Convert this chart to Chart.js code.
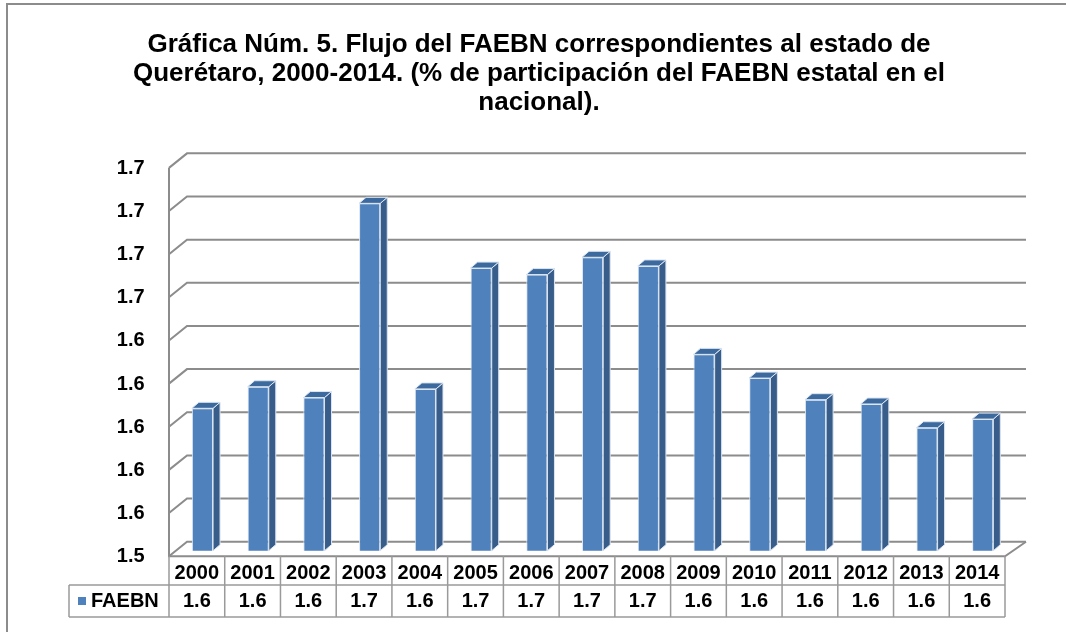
<!DOCTYPE html>
<html>
<head>
<meta charset="utf-8">
<title>Flujo del FAEBN - Querétaro</title>
<script src="https://cdn.jsdelivr.net/npm/chart.js@4.4.0/dist/chart.umd.min.js"></script>
<style>
  html, body { margin: 0; padding: 0; background: #fff; overflow: hidden; }
  #frame { position: absolute; left: 6px; top: 3px; width: 1120px; height: 700px; border: 2px solid #8c8c8c; }
  #myChart { position: absolute; left: 0; top: 0; }
</style>
</head>
<body>
<div id="frame"></div>
<canvas id="myChart" width="1066" height="632"></canvas>
<script>
const years = ['2000', '2001', '2002', '2003', '2004', '2005', '2006', '2007',
               '2008', '2009', '2010', '2011', '2012', '2013', '2014'];
const faebn = [1.606, 1.616, 1.611, 1.701, 1.615, 1.671, 1.668, 1.676,
               1.672, 1.631, 1.620, 1.610, 1.608, 1.597, 1.601];
const yTicks = [1.54, 1.56, 1.58, 1.60, 1.62, 1.64, 1.66, 1.68, 1.70, 1.72];
const seriesName = 'FAEBN';

const FONT = '"Liberation Sans", Arial, sans-serif';
const frontColor = '#4F81BD';
const sideColor = '#385D8A';
const topColor = '#3D6A9E';
const edgeColor = '#dce6f2';
const gridGray = '#8c8c8c';
const tableGray = '#9a9a9a';

// fake depth: the floor front sits left/below the bar plane, back wall up/right
const floorShift = 5.6;
const backUp = 9, frontDown = 5.5;
const backLeft = 12.4, backRight = 15.4;
const barDx = 7, barDy = 6;

// back wall gridlines + left wall + floor
const walls = {
    id: 'walls',
    beforeDatasetsDraw(chart) {
        const {ctx, chartArea: ca, scales: {y}} = chart;
        const fl = ca.left - floorShift, fr = ca.right - floorShift;
        ctx.save();
        ctx.strokeStyle = gridGray;
        ctx.lineWidth = 2;
        yTicks.forEach(v => {
            const py = y.getPixelForValue(v);
            ctx.beginPath();
            ctx.moveTo(fl, py + frontDown);
            ctx.lineTo(ca.left + backLeft, py - backUp);
            ctx.lineTo(ca.right + backRight, py - backUp);
            ctx.stroke();
        });
        const top = y.getPixelForValue(yTicks[yTicks.length - 1]) + frontDown;
        const bot = y.getPixelForValue(yTicks[0]) + frontDown;
        ctx.beginPath();
        ctx.moveTo(fl, top);
        ctx.lineTo(fl, bot);
        ctx.lineTo(fr, bot);
        ctx.lineTo(ca.right + backRight, bot - frontDown - backUp);
        ctx.stroke();
        ctx.restore();
    }
};

// side and top faces of each bar
const bars3d = {
    id: 'bars3d',
    afterDatasetsDraw(chart) {
        const {ctx, chartArea: ca} = chart;
        const meta = chart.getDatasetMeta(0);
        ctx.save();
        ctx.strokeStyle = edgeColor;
        ctx.lineWidth = 1;
        meta.data.forEach(bar => {
            const l = bar.x - bar.width / 2, r = bar.x + bar.width / 2;
            const t = bar.y, b = Math.min(bar.base, ca.bottom);
            ctx.beginPath();
            ctx.moveTo(r, t);
            ctx.lineTo(r + barDx, t - barDy);
            ctx.lineTo(r + barDx, b - barDy);
            ctx.lineTo(r, b);
            ctx.closePath();
            ctx.fillStyle = sideColor;
            ctx.fill();
            ctx.stroke();
            ctx.beginPath();
            ctx.moveTo(l, t);
            ctx.lineTo(l + barDx, t - barDy);
            ctx.lineTo(r + barDx, t - barDy);
            ctx.lineTo(r, t);
            ctx.closePath();
            ctx.fillStyle = topColor;
            ctx.fill();
            ctx.stroke();
        });
        ctx.restore();
    }
};

// data table under the axis (years come from the x ticks)
const dataTable = {
    id: 'dataTable',
    afterDraw(chart) {
        const {ctx, chartArea: ca, scales: {y}} = chart;
        const n = years.length;
        const cw = ca.width / n;
        const x0 = ca.left - floorShift;
        const x1 = x0 + n * cw;
        const rowTop = y.getPixelForValue(yTicks[0]) + frontDown;
        const rowMid = 585, rowBot = 617;
        const legLeft = 69;
        ctx.save();
        ctx.strokeStyle = tableGray;
        ctx.lineWidth = 1.5;
        ctx.beginPath();
        ctx.moveTo(legLeft, rowMid); ctx.lineTo(x1, rowMid);
        ctx.moveTo(legLeft, rowBot); ctx.lineTo(x1, rowBot);
        ctx.moveTo(legLeft, rowMid); ctx.lineTo(legLeft, rowBot);
        for (let i = 0; i <= n; i++) {
            ctx.moveTo(x0 + i * cw, rowTop);
            ctx.lineTo(x0 + i * cw, rowBot);
        }
        ctx.stroke();

        ctx.fillStyle = frontColor;
        ctx.fillRect(78, 597, 8, 8);

        ctx.fillStyle = '#000';
        ctx.font = 'bold 20px ' + FONT;
        ctx.textBaseline = 'middle';
        ctx.textAlign = 'left';
        ctx.fillText(seriesName, 91, (rowMid + rowBot) / 2);
        ctx.textAlign = 'center';
        faebn.forEach((v, i) => {
            ctx.fillText(v.toFixed(1), x0 + (i + 0.5) * cw, (rowMid + rowBot) / 2);
        });
        ctx.restore();
    }
};

new Chart(document.getElementById('myChart'), {
    type: 'bar',
    data: {
        labels: years,
        datasets: [{
            label: seriesName,
            data: faebn,
            backgroundColor: frontColor,
            borderColor: edgeColor,
            borderWidth: 1,
            categoryPercentage: 1,
            barPercentage: 0.38
        }]
    },
    options: {
        responsive: false,
        animation: false,
        layout: {
            padding: {left: 67.4, right: 55.4, top: 0, bottom: 35.3}
        },
        plugins: {
            legend: {display: false},
            tooltip: {enabled: false},
            title: {
                display: true,
                text: ['Gráfica Núm. 5. Flujo del FAEBN correspondientes al estado de',
                       'Querétaro, 2000-2014. (% de participación del FAEBN estatal en el',
                       'nacional).'],
                color: '#000',
                font: {family: FONT, size: 26, weight: 'bold', lineHeight: 1.12},
                padding: {top: 30, bottom: 45}
            }
        },
        scales: {
            x: {
                grid: {display: false, drawTicks: false},
                border: {display: false},
                ticks: {
                    color: '#000',
                    font: {family: FONT, size: 20, weight: 'bold'},
                    padding: 11,
                    labelOffset: -floorShift,
                    maxRotation: 0
                }
            },
            y: {
                min: yTicks[0],
                max: yTicks[yTicks.length - 1],
                afterBuildTicks: s => { s.ticks = yTicks.map(v => ({value: v})); },
                afterFit: s => { s.width = 174.6 - 67.4; },
                grid: {display: false, drawTicks: false},
                border: {display: false},
                ticks: {
                    color: '#000',
                    font: {family: FONT, size: 20, weight: 'bold'},
                    padding: 30,
                    labelOffset: 6,
                    callback: v => Number(v).toFixed(1)
                }
            }
        }
    },
    plugins: [walls, bars3d, dataTable]
});
</script>
</body>
</html>
